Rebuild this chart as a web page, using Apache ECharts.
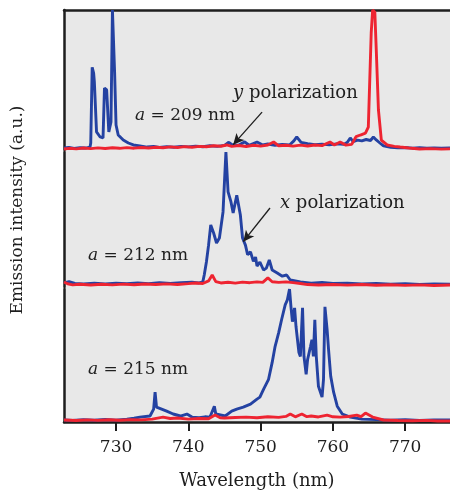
<!DOCTYPE html>
<html>
<head>
<meta charset="utf-8">
<script src="https://cdn.jsdelivr.net/npm/echarts@6/dist/echarts.min.js"></script>
<style>
html, body { margin: 0; padding: 0; background: #fff; }
#chart { width: 450px; height: 491px; }
</style>
</head>
<body>
<div id="chart"></div>
<script>
var myChart = echarts.init(document.getElementById('chart'));

// wavelength ticks (nm)
var tickValues = [730, 740, 750, 760, 770];

// a = 209 nm panel, [wavelength, intensity]
var blue209 = [[722.8,1.4],[723.5,1.8],[724.2,1.2],[725,1.6],[725.8,1.4],[726.4,2.1],[726.5,5],[726.7,59],[726.9,55],[727.0,48.6],[727.3,12.9],[727.8,9.3],[728.2,8.6],[728.4,44.3],[728.7,42.9],[729.0,12.9],[729.3,20],[729.5,100],[729.8,55.7],[730.0,17.9],[730.3,10.7],[731.0,7.1],[731.7,5],[732.4,3.6],[733.3,2.9],[734.3,2.1],[735.2,2.5],[736,1.9],[737,2.4],[738,2.0],[739,2.6],[740,2.2],[741,2.8],[742,2.3],[743,3.0],[744,2.6],[745,3.3],[745.6,5.5],[746.2,3.2],[747,3.6],[747.8,5.8],[748.4,3.4],[749.5,5.7],[750.3,3.6],[751,4.3],[752,3.4],[753,4.0],[754,3.6],[754.6,6.5],[755,9.3],[755.6,5.5],[756.5,4.5],[757.5,3.8],[758.5,4.2],[759.5,3.7],[760.5,4.4],[761.5,4.0],[762,5.5],[762.4,8.6],[762.8,6.0],[763.4,7.1],[764,6.5],[764.6,7.5],[765.2,6.8],[765.6,9.3],[766,7.2],[766.5,5],[767,2.9],[768,2.0],[769,1.6],[770,1.8],[771,1.3],[772,1.6],[773,1.2],[774,1.5],[775,1.3],[776.2,1.4]];
var red209 = [[722.8,0.7],[723.5,1.2],[724.5,0.8],[725.5,1.4],[726.5,1.0],[727.5,1.5],[728.5,1.1],[729.5,1.6],[730.5,1.2],[731.5,1.7],[732.5,1.3],[733.5,1.8],[734.5,1.4],[735.5,2.0],[736.5,1.6],[737.5,2.2],[738.5,1.8],[739.5,2.4],[740.5,2.0],[741.5,2.6],[742.5,2.3],[743.5,3.0],[744.5,2.7],[745.3,3.6],[746,2.6],[747,3.2],[748,2.5],[749,3.4],[750,2.8],[751,3.6],[751.8,5.7],[752.5,3.0],[753.5,3.4],[754.5,2.8],[755.5,3.5],[756.5,2.9],[757.5,3.6],[758.5,3.1],[759.6,5.7],[760.2,3.6],[761,5.7],[761.8,3.5],[762.6,4.0],[763.2,9.5],[763.8,10.7],[764.5,12],[764.9,16.4],[765.3,83.6],[765.5,100],[765.8,98.6],[766.0,71.4],[766.3,28.6],[766.7,7.1],[767.5,3.6],[768.5,2.6],[769.3,2.1],[770.5,1.4],[772,0.7],[773.5,1.0],[775,0.6],[776.2,0.8]];

// a = 212 nm panel
var blue212 = [[722.8,3.0],[723.5,4.0],[724.3,2.6],[725.5,2.2],[727,2.8],[728.5,2.3],[730,2.9],[731.5,2.4],[733,3.0],[734.5,2.5],[736,3.1],[737.5,2.6],[739,3.2],[740.5,3.6],[741.5,3.0],[742.0,3.7],[742.2,8.9],[742.5,18.5],[742.8,31],[743.1,46],[743.5,40],[743.9,32.6],[744.3,36.3],[744.8,55.6],[745.2,100],[745.5,70.4],[745.9,63],[746.2,54.8],[746.7,68],[747.2,53.3],[747.5,36.3],[747.9,31],[748.2,24],[748.6,26],[749.0,19],[749.3,22.2],[749.5,15.5],[749.9,18.5],[750.4,12.6],[750.8,14],[751.2,20],[751.6,12.6],[752.3,10.4],[753.0,8],[753.6,8.9],[754.1,5.2],[755.5,3.7],[757,2.8],[758.5,3.3],[760,2.6],[762,2.9],[764,2.3],[766,2.6],[768,2.0],[770,2.4],[772,1.9],[774,2.2],[776.2,2.0]];
var red212 = [[722.8,3.7],[723.3,2.4],[724,1.6],[725,2.0],[726.5,1.5],[728,2.0],[729.5,1.6],[731,2.1],[732.5,1.7],[734,2.2],[735.5,1.8],[737,2.3],[738.5,1.9],[740,2.5],[741,3.0],[742,2.6],[742.8,4.5],[743.3,8.9],[743.8,4.0],[744.5,3.0],[745.5,3.5],[746.5,2.9],[747.5,3.6],[748.5,3.2],[749.5,3.8],[750.3,3.4],[751,6.7],[751.6,3.9],[752.5,3.4],[753.5,3.8],[754.5,3.2],[755.5,2.6],[756.5,1.8],[758,1.5],[760,1.9],[762,1.4],[764,1.8],[766,1.3],[768,1.7],[770,1.2],[772,1.6],[774,1.1],[776.2,1.5]];

// a = 215 nm panel
var blue215 = [[722.8,1.5],[724,1.2],[725.5,1.8],[727,1.3],[728.5,1.9],[730,1.4],[731.5,2.2],[732.5,2.8],[733.3,3.7],[734.7,4.5],[735.2,9.7],[735.4,22.4],[735.6,11.2],[736.3,9.7],[737.0,8.2],[737.9,6],[738.9,4.5],[739.8,6],[740.5,3.7],[741.5,3.3],[742.3,3.9],[743.0,3.7],[743.6,11.9],[743.8,6],[744.0,4.5],[745.1,4.5],[746.0,8.2],[746.7,9.7],[747.6,11.2],[748.6,13.4],[749.5,17.2],[749.9,18.7],[750.4,24.6],[750.6,26.1],[751.1,32.1],[751.6,44.8],[752.0,56.7],[752.5,67.2],[752.9,76.9],[753.4,88.1],[753.7,91.8],[754.0,100],[754.2,86.6],[754.4,75.4],[754.7,85.8],[754.9,71.6],[755.3,52.2],[755.5,49.3],[755.8,85.8],[756.0,49.3],[756.3,35.8],[756.5,47],[756.9,56.7],[757.1,61.9],[757.3,49.3],[757.5,76.9],[757.7,49.3],[758.0,26.9],[758.5,18.7],[758.7,32.1],[758.9,86.6],[759.2,69.4],[759.4,54.5],[759.7,34.3],[760.1,22.4],[760.6,11.9],[761.3,6],[762.4,3.7],[764,2.2],[766,1.8],[768,1.4],[770,1.7],[772,1.2],[774,1.5],[776.2,1.5]];
var red215 = [[722.8,1.5],[724.5,1.1],[726,1.6],[727.5,1.2],[729,1.7],[730.5,1.3],[732,1.8],[733.5,1.6],[735,2.2],[736.5,3.7],[737.5,2.6],[738.5,3.0],[740,2.2],[741.5,2.6],[742.8,2.4],[743.7,5.2],[744.4,3.2],[745,3.0],[746.5,3.4],[748,3.7],[749.5,3.2],[751,3.9],[752.5,3.5],[753.5,4.2],[754.1,6],[754.8,3.9],[755.7,6],[756.4,4.0],[757,4.5],[758,3.8],[759.2,5.2],[760,3.9],[761,3.7],[762.2,4.1],[763.3,5.2],[763.9,4.0],[764.5,6.7],[765.5,3.7],[767,1.5],[769,1.1],[771,0.9],[773,1.2],[774.5,0.8],[776.2,0.7]];

var blue = '#2442a2';
var red = '#ee2431';
var ink = '#1e1e1e';
var serif = 'DejaVu Serif';

var grids = [
    {left: 64, right: 0, top: 10, height: 140},
    {left: 64, right: 0, top: 152, height: 135},
    {left: 64, right: 0, top: 289, height: 134}
];

function xAxisFor(i) {
    var last = i === 2;
    return {
        type: 'value',
        gridIndex: i,
        min: 722.8,
        max: 776.2,
        position: i === 0 ? 'top' : 'bottom',
        show: i !== 1,
        splitLine: {show: false},
        axisLine: {show: true, onZero: false, lineStyle: {color: ink, width: 2.5}},
        axisTick: {
            show: last,
            customValues: tickValues,
            inside: false,
            length: 9,
            lineStyle: {color: ink, width: 2}
        },
        axisLabel: {
            show: last,
            customValues: tickValues,
            margin: 17,
            color: ink,
            fontFamily: serif,
            fontSize: 17
        },
        name: last ? 'Wavelength (nm)' : '',
        nameLocation: 'middle',
        nameGap: 50,
        nameTextStyle: {color: ink, fontFamily: serif, fontSize: 18}
    };
}

function yAxisFor(i) {
    return {
        type: 'value',
        gridIndex: i,
        min: 0,
        max: 100,
        splitLine: {show: false},
        axisTick: {show: false},
        axisLabel: {show: false},
        axisLine: {show: true, onZero: false, lineStyle: {color: ink, width: 2.5}}
    };
}

function lineSeries(i, data, color, arrow) {
    var s = {
        type: 'line',
        xAxisIndex: i,
        yAxisIndex: i,
        data: data,
        showSymbol: false,
        symbol: 'none',
        animation: false,
        z: color === red ? 3 : 2,
        lineStyle: {color: color, width: 2.9}
    };
    if (arrow) {
        s.markLine = {
            silent: true,
            animation: false,
            symbol: ['none', 'arrow'],
            symbolSize: [8, 11],
            label: {show: false},
            lineStyle: {color: ink, width: 1.3, type: 'solid'},
            data: [[{coord: arrow[0]}, {coord: arrow[1]}]]
        };
    }
    return s;
}

function label(x, y, italic, rest, size) {
    return {
        type: 'text',
        left: x,
        top: y,
        z: 10,
        style: {
            text: '{i|' + italic + '}' + rest,
            fill: ink,
            fontFamily: serif,
            fontSize: size,
            rich: {
                i: {fontStyle: 'italic', fontFamily: serif, fontSize: size, fill: ink}
            }
        }
    };
}

myChart.setOption({
    backgroundColor: '#fff',
    animation: false,
    grid: grids,
    xAxis: [xAxisFor(0), xAxisFor(1), xAxisFor(2)],
    yAxis: [yAxisFor(0), yAxisFor(1), yAxisFor(2)],
    graphic: [
        {
            type: 'rect',
            z: -10,
            shape: {x: 64, y: 10, width: 386, height: 413},
            style: {fill: '#e8e8e8'}
        },
        {
            type: 'text',
            x: 18,
            y: 210,
            rotation: Math.PI / 2,
            style: {
                text: 'Emission intensity (a.u.)',
                fill: ink,
                fontFamily: serif,
                fontSize: 17,
                align: 'center',
                verticalAlign: 'middle'
            }
        },
        label(135, 107, 'a', ' = 209 nm', 17),
        label(233, 84, 'y', ' polarization', 18),
        label(280, 194, 'x', ' polarization', 18),
        label(88, 247, 'a', ' = 212 nm', 17),
        label(88, 361, 'a', ' = 215 nm', 17)
    ],
    series: [
        lineSeries(0, blue209, blue, [[750.2, 27.1], [746.2, 3.8]]),
        lineSeries(0, red209, red),
        lineSeries(1, blue212, blue, [[751.3, 58.5], [747.6, 33.6]]),
        lineSeries(1, red212, red),
        lineSeries(2, blue215, blue),
        lineSeries(2, red215, red)
    ]
});
</script>
</body>
</html>
